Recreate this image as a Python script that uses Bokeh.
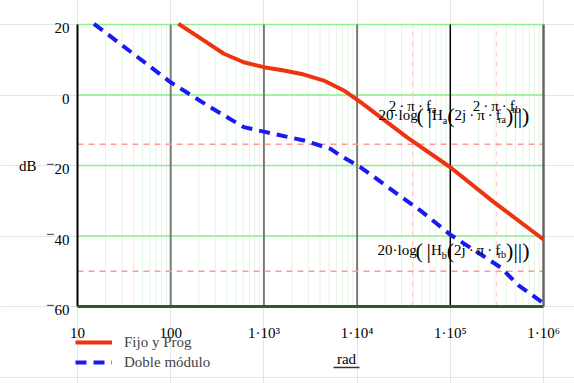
import math
from bokeh.plotting import figure
from bokeh.models import Label, Legend, LegendItem
from bokeh.embed import file_html
from bokeh.resources import INLINE

# ---- data ----
fijo_w = [121, 226, 372, 608, 1000, 1640, 2690, 4400, 7190, 1.09e4, 3.44e4, 1.0e5, 2.93e5, 1.0e6]
fijo_db = [20.2, 15.5, 11.7, 9.3, 7.9, 6.95, 5.8, 4.1, 1.3, -2.0, -12.0, -20.5, -30.4, -41.0]

doble_w = [15, 100, 267, 608, 1000, 2690, 5190, 6640, 1.09e4, 3.17e4, 4.79e4, 1.0e5, 3.46e5, 5.4e5, 1.0e6]
doble_db = [20.2, 3.6, -3.5, -9.1, -10.4, -12.9, -15.3, -17.2, -20.5, -29.4, -32.8, -39.6, -48.9, -54.0, -59.1]

x_ticks = [10, 100, 1e3, 1e4, 1e5, 1e6]
x_labels = ["10", "100", "1·10³", "1·10⁴", "1·10⁵", "1·10⁶"]
y_ticks = [-60, -40, -20, 0, 20]
y_labels = ["60", "40", "20", "0", "20"]
y_signs = ["−", "−", "−", "", ""]

w_ra = 3.93e4   # 2·π·f_ra
w_rb = 3.14e5   # 2·π·f_rb
db_a = -14.0    # 20·log(|Ha(2j·π·f_ra)|)
db_b = -50.0    # 20·log(|Hb(2j·π·f_rb)|)

SERIF = "Liberation Serif"

# ---- geometry: plot box spans x 10..1e6 and y -60..20; canvas holds the labels around it ----
X0, X1, Y0, Y1 = 10, 1e6, -60, 20
FW, FH = 574, 383
BOX_L, BOX_R, BOX_T, BOX_B = 77, 543, 24, 306   # box edges inside the canvas (px)
dec = (BOX_R - BOX_L) / (math.log10(X1) - math.log10(X0))
dby = (BOX_B - BOX_T) / (Y1 - Y0)
xr = (10 ** (math.log10(X0) - BOX_L / dec), 10 ** (math.log10(X1) + (FW - BOX_R) / dec))
yr = (Y0 - (FH - BOX_B) / dby, Y1 + BOX_T / dby)

p = figure(width=FW, height=FH, x_axis_type="log", x_range=xr, y_range=yr,
           x_axis_location=None, y_axis_location=None,
           output_backend="svg", toolbar_location=None, title=None,
           min_border=0, min_border_left=0, min_border_right=0, min_border_top=0, min_border_bottom=0)
p.outline_line_color = None
p.background_fill_color = "white"
p.border_fill_color = "white"

# minor vertical grid
minor = [m * 10 ** k for k in range(1, 6) for m in range(2, 10)]
p.segment(x0=minor, y0=[Y0] * len(minor), x1=minor, y1=[Y1] * len(minor),
          line_color="#e2f6e2", line_width=1)
# horizontal grid
hg = [-40, -20, 0, 20]
p.segment(x0=[X0] * len(hg), y0=hg, x1=[X1] * len(hg), y1=hg, line_color="#8ef08e", line_width=1.5)
# major vertical grid
mg = [100, 1e3, 1e4]
p.segment(x0=mg, y0=[Y0] * 3, x1=mg, y1=[Y1] * 3, line_color="#7a7a7a", line_width=2)
p.segment(x0=[1e5], y0=[Y0], x1=[1e5], y1=[Y1], line_color="black", line_width=1.5)

# markers
p.segment(x0=[w_ra, w_rb], y0=[Y0, Y0], x1=[w_ra, w_rb], y1=[Y1, Y1],
          line_color="#ffc8c8", line_width=1, line_dash="5 5")
p.segment(x0=[X0, X0], y0=[db_a, db_b], x1=[X1, X1], y1=[db_a, db_b],
          line_color="#ff9a9a", line_width=1.5, line_dash="6 5")

# frame
p.segment(x0=[X1], y0=[Y0], x1=[X1], y1=[Y1], line_color="#666666", line_width=2.5)
p.segment(x0=[X0], y0=[Y0], x1=[X0], y1=[Y1], line_color="black", line_width=2)
p.segment(x0=[X0], y0=[Y0], x1=[X1], y1=[Y0], line_color="#2f5a2f", line_width=3)

# curves
r_fijo = p.line(fijo_w, fijo_db, line_color="#ee3311", line_width=4, line_join="round")
r_doble = p.line(doble_w, doble_db, line_color="#1a1af0", line_width=4, line_dash="11 7")


def lab(x, y, text, size=15, align="left", dx=0, dy=0, color="black"):
    p.add_layout(Label(x=x, y=y, text=text, x_offset=dx, y_offset=dy,
                       text_font=SERIF, text_font_size=f"{size}px",
                       text_baseline="middle", text_align=align, text_color=color))


W = {"0": .5, "1": .5, "2": .5, "4": .5, "6": .5, "·": .25, "l": .278, "o": .5, "g": .5,
     "(": .333, ")": .333, "|": .2, "H": .722, "j": .278, "π": .5, "f": .333, "r": .333,
     "a": .444, "b": .5, " ": .25, "\u2009": .2, "−": .564}


def tw(s, size):
    return sum(W.get(c, .5) for c in s) * size


def rich(x, y, pieces, align="left", dx0=0):
    """pieces: (text, font px, downward shift px)"""
    total = sum(tw(t, sz) for t, sz, dy in pieces)
    off = dx0 + {"left": 0, "center": -total / 2, "right": -total}[align]
    for t, sz, dy in pieces:
        if t:
            lab(x, y, t, size=sz, dx=off, dy=-dy)
        off += tw(t, sz)


# tick labels
for t, l in zip(x_ticks, x_labels):
    lab(t, Y0, l, align="center", dy=-26)
for t, l, s in zip(y_ticks, y_labels, y_signs):
    rich(X0, t, [(s, 15, -2), (l, 15, 3.5)], align="right", dx0=-8)
lab(X0, -20, "dB", align="right", dx=-41)

# legend
legend = Legend(items=[LegendItem(label="Fijo y Prog", renderers=[r_fijo]),
                       LegendItem(label="Doble módulo", renderers=[r_doble])],
                location=(75, 11), orientation="vertical",
                glyph_width=37, glyph_height=20, label_height=20, label_standoff=12,
                spacing=0, padding=0, margin=0,
                label_text_font=SERIF, label_text_font_size="15px",
                border_line_alpha=0, background_fill_alpha=0)
p.add_layout(legend, "center")

# rich text annotations (marker readouts)
T = "\u2009"
rich(w_ra, -3.1, [(f"2{T}·{T}π{T}·{T}f", 15, 0), ("ra", 10, 4)], align="center")
rich(w_rb, -3.1, [(f"2{T}·{T}π{T}·{T}f", 15, 0), ("rb", 10, 4)], align="center")


def hlabel(sub_h, sub_f):
    return [("20·log", 15, 0), ("(", 22, 0), (" ", 15, 0), ("|", 22, 0), ("H", 15, 0), (sub_h, 10, 5),
            ("(", 22, 0), (f"2j{T}·{T}π{T}·{T}f", 15, 0), (sub_f, 10, 4), (")", 22, 0),
            ("|", 22, 0), ("|", 22, 0), (")", 22, 0)]


rich(16970, -5.8, hlabel("a", "ra"))
rich(16560, -44.1, hlabel("b", "rb"))

# x unit label (rad over s, cut by the page bottom)
lab(7690, -75.0, "rad", align="center")
p.segment(x0=[5585], y0=[-77.3], x1=[10620], y1=[-77.3], line_color="#333333", line_width=1.5)

open("out.html", "w").write(file_html(p, INLINE))
